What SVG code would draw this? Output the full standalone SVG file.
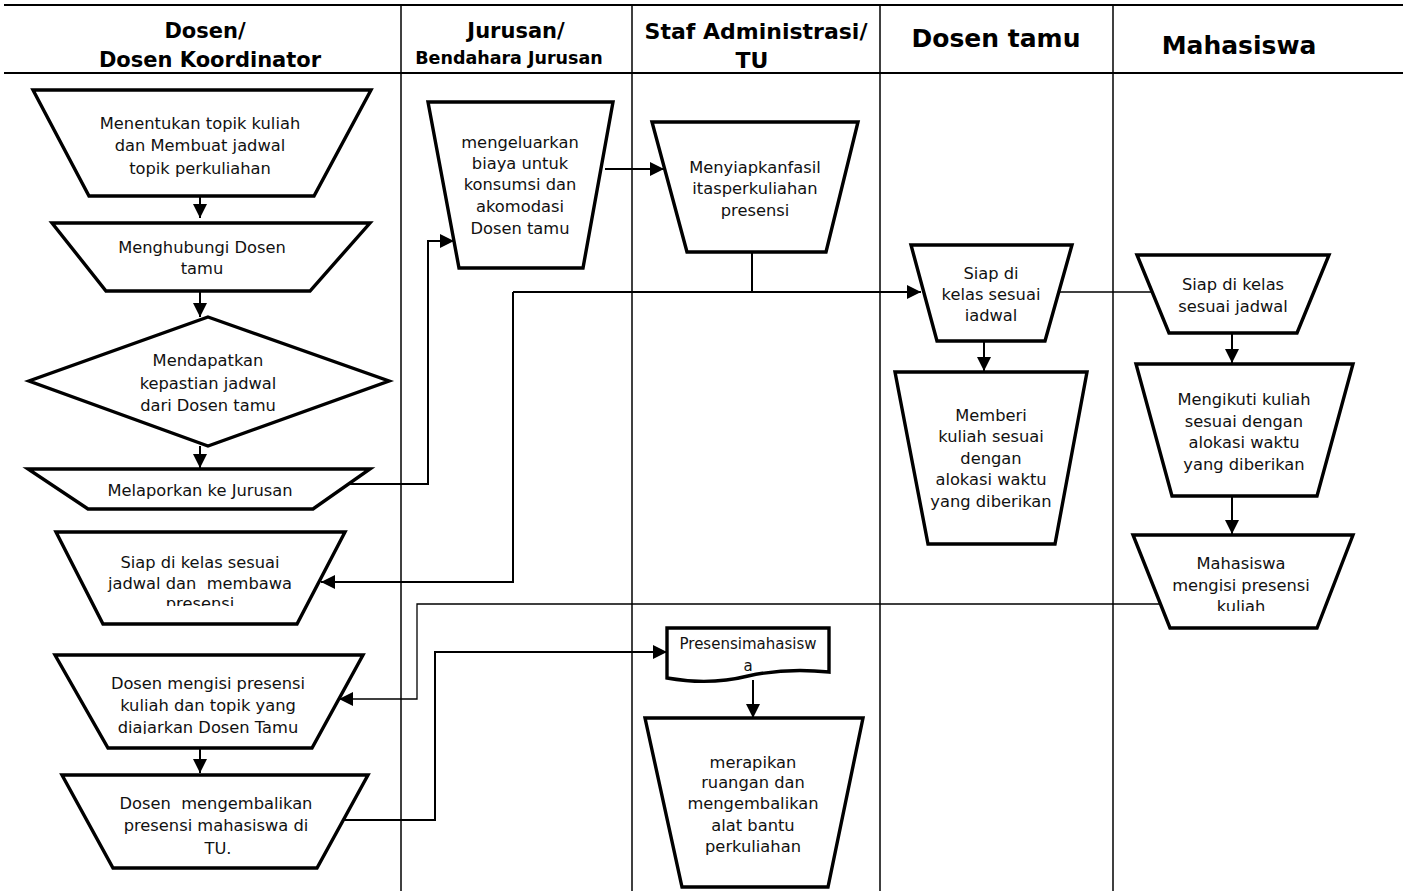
<svg xmlns="http://www.w3.org/2000/svg" width="1403" height="891" viewBox="0 0 1403 891">
<style>
.lane{stroke:#000;stroke-width:1.5;fill:none}
.hline{stroke:#000;stroke-width:2.2;fill:none}
.hd{font-family:"DejaVu Sans",sans-serif;font-weight:bold;fill:#000;text-anchor:middle}
.sh{fill:#fff;stroke:#000;stroke-width:3.4;stroke-linejoin:miter}
.t{font-family:"DejaVu Sans",sans-serif;font-size:16.3px;fill:#111;text-anchor:middle;white-space:pre}
.c{stroke:#000;stroke-width:2;fill:none}
.ct{stroke:#000;stroke-width:1.3;fill:none}
</style>
<defs>
<marker id="ah" markerUnits="userSpaceOnUse" markerWidth="14" markerHeight="14" viewBox="0 0 14 14" refX="14" refY="7" orient="auto">
<path d="M0,0 L14,7 L0,14 z" fill="#000"/>
</marker>
<clipPath id="k5"><rect x="0" y="0" width="1403" height="606"/></clipPath>
<clipPath id="k6"><rect x="0" y="0" width="1403" height="734"/></clipPath>
<clipPath id="k14"><rect x="0" y="0" width="1403" height="611"/></clipPath>
<clipPath id="k10"><rect x="0" y="0" width="1403" height="321"/></clipPath>
</defs>
<rect x="0" y="0" width="1403" height="891" fill="#fff"/>
<g id="lanes">
<line class="hline" x1="4" y1="5" x2="1403" y2="5"/>
<line class="hline" x1="4" y1="73" x2="1403" y2="73"/>
<line class="lane" x1="401" y1="5" x2="401" y2="891"/>
<line class="lane" x1="632" y1="5" x2="632" y2="891"/>
<line class="lane" x1="880" y1="5" x2="880" y2="891"/>
<line class="lane" x1="1113" y1="5" x2="1113" y2="891"/>
<text class="hd" x="205" y="38" font-size="21">Dosen/</text>
<text class="hd" x="210" y="67" font-size="21">Dosen Koordinator</text>
<text class="hd" x="516" y="38" font-size="21">Jurusan/</text>
<text class="hd" x="509" y="64" font-size="17.5">Bendahara Jurusan</text>
<text class="hd" x="756" y="39" font-size="22">Staf Administrasi/</text>
<text class="hd" x="752" y="68" font-size="22">TU</text>
<text class="hd" x="996" y="47" font-size="25">Dosen tamu</text>
<text class="hd" x="1239" y="54" font-size="25">Mahasiswa</text>
</g>
<g id="connectors">
<path class="c" d="M200,196 V218" marker-end="url(#ah)"/>
<path class="c" d="M200,291 V317" marker-end="url(#ah)"/>
<path class="c" d="M200,446 V468" marker-end="url(#ah)"/>
<path class="c" d="M349,484 H428 V241 H454" marker-end="url(#ah)"/>
<path class="c" d="M605,169 H664" marker-end="url(#ah)"/>
<path class="c" d="M752,253 V292"/>
<path class="c" d="M513,292 H921" marker-end="url(#ah)"/>
<path class="c" d="M513,292 V582 H321" marker-end="url(#ah)"/>
<path class="ct" d="M1059,292 H1152"/>
<path class="c" d="M984,341 V371" marker-end="url(#ah)"/>
<path class="c" d="M1232,333 V363" marker-end="url(#ah)"/>
<path class="c" d="M1232,496 V534" marker-end="url(#ah)"/>
<path class="ct" d="M1160,604 H417 V699 H339" marker-end="url(#ah)"/>
<path class="c" d="M200,748 V773" marker-end="url(#ah)"/>
<path class="c" d="M344,820 H435 V652 H667" marker-end="url(#ah)"/>
<path class="c" d="M753,680 V718" marker-end="url(#ah)"/>
</g>
<g id="n1">
<path class="sh" d="M33,90 H371 L314,196 H89 Z"/>
<text class="t" x="200" y="128.5">Menentukan topik kuliah</text>
<text class="t" x="200" y="151">dan Membuat jadwal</text>
<text class="t" x="200" y="173.5">topik perkuliahan</text>
</g>
<g id="n2">
<path class="sh" d="M52,223 H370 L310,291 H106 Z"/>
<text class="t" x="202" y="252.5">Menghubungi Dosen</text>
<text class="t" x="202" y="273.5">tamu</text>
</g>
<g id="n3">
<path class="sh" d="M208,317 L389,381 L208,446 L29,381 Z"/>
<text class="t" x="208" y="365.5">Mendapatkan</text>
<text class="t" x="208" y="388.5">kepastian jadwal</text>
<text class="t" x="208" y="410.5">dari Dosen tamu</text>
</g>
<g id="n4">
<path class="sh" d="M28,469 H370 L313,509 H88 Z"/>
<text class="t" x="200" y="495.5">Melaporkan ke Jurusan</text>
</g>
<g id="n5">
<path class="sh" d="M56,532 H345 L297,624 H103 Z"/>
<g clip-path="url(#k5)">
<text class="t" x="200" y="567.5">Siap di kelas sesuai</text>
<text class="t" x="200" y="588.5">jadwal dan  membawa</text>
<text class="t" x="200" y="608.5">presensi</text>
</g>
</g>
<g id="n6">
<path class="sh" d="M55,655 H363 L312,748 H108 Z"/>
<g clip-path="url(#k6)">
<text class="t" x="208" y="688.5">Dosen mengisi presensi</text>
<text class="t" x="208" y="711">kuliah dan topik yang</text>
<text class="t" x="208" y="732.5">diajarkan Dosen Tamu</text>
</g>
</g>
<g id="n7">
<path class="sh" d="M62,775 H368 L317,868 H113 Z"/>
<text class="t" x="216" y="808.5">Dosen  mengembalikan</text>
<text class="t" x="216" y="831">presensi mahasiswa di</text>
<text class="t" x="218" y="853.5">TU.</text>
</g>
<g id="n8">
<path class="sh" d="M428,102 H613 L583,268 H459 Z"/>
<text class="t" x="520" y="147.5">mengeluarkan</text>
<text class="t" x="520" y="168.5">biaya untuk</text>
<text class="t" x="520" y="190">konsumsi dan</text>
<text class="t" x="520" y="212">akomodasi</text>
<text class="t" x="520" y="233.5">Dosen tamu</text>
</g>
<g id="n9">
<path class="sh" d="M652,122 H858 L826,252 H687 Z"/>
<text class="t" x="755" y="172.5">Menyiapkanfasil</text>
<text class="t" x="755" y="193.5">itasperkuliahan</text>
<text class="t" x="755" y="215.5">presensi</text>
</g>
<g id="n10">
<path class="sh" d="M911,245 H1072 L1045,341 H937 Z"/>
<g clip-path="url(#k10)">
<text class="t" x="991" y="278.5">Siap di</text>
<text class="t" x="991" y="299.5">kelas sesuai</text>
<text class="t" x="991" y="321">jadwal</text>
</g>
</g>
<g id="n11">
<path class="sh" d="M895,372 H1087 L1055,544 H928 Z"/>
<text class="t" x="991" y="420.5">Memberi</text>
<text class="t" x="991" y="442">kuliah sesuai</text>
<text class="t" x="991" y="463.5">dengan</text>
<text class="t" x="991" y="485">alokasi waktu</text>
<text class="t" x="991" y="507">yang diberikan</text>
</g>
<g id="n12">
<path class="sh" d="M1137,255 H1329 L1297,333 H1169 Z"/>
<text class="t" x="1233" y="289.5">Siap di kelas</text>
<text class="t" x="1233" y="311.5">sesuai jadwal</text>
</g>
<g id="n13">
<path class="sh" d="M1136,364 H1353 L1317,496 H1172 Z"/>
<text class="t" x="1244" y="404.5">Mengikuti kuliah</text>
<text class="t" x="1244" y="426.5">sesuai dengan</text>
<text class="t" x="1244" y="447.5">alokasi waktu</text>
<text class="t" x="1244" y="469.5">yang diberikan</text>
</g>
<g id="n14">
<path class="sh" d="M1133,535 H1353 L1317,628 H1170 Z"/>
<g clip-path="url(#k14)">
<text class="t" x="1241" y="568.5">Mahasiswa</text>
<text class="t" x="1241" y="590.5">mengisi presensi</text>
<text class="t" x="1241" y="611.5">kuliah</text>
</g>
</g>
<g id="n15">
<path class="sh" d="M667,628 H829 V672 C800,669 775,670 748,676 C720,683 695,683 667,678 Z"/>
<text class="t" x="748" y="648.5" font-size="15" style="font-size:15px">Presensimahasisw</text>
<text class="t" x="748" y="670.5" style="font-size:15px">a</text>
</g>
<g id="n16">
<path class="sh" d="M645,718 H863 L828,887 H682 Z"/>
<text class="t" x="753" y="767.5">merapikan</text>
<text class="t" x="753" y="787.5">ruangan dan</text>
<text class="t" x="753" y="808.5">mengembalikan</text>
<text class="t" x="753" y="830.5">alat bantu</text>
<text class="t" x="753" y="851.5">perkuliahan</text>
</g>
</svg>
